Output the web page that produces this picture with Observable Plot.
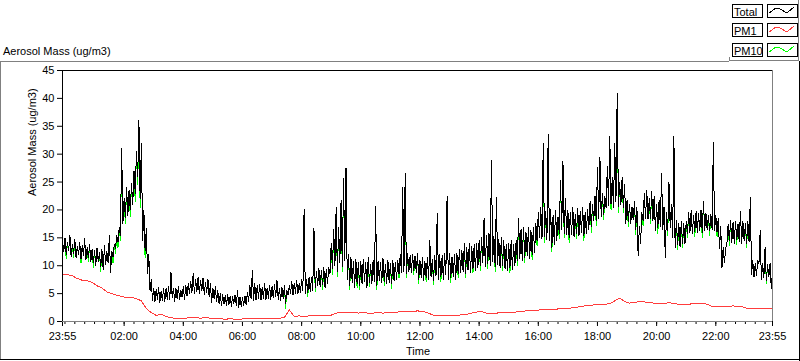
<!DOCTYPE html>
<html><head><meta charset="utf-8">
<script src="https://cdn.jsdelivr.net/npm/d3@7"></script>
<script src="https://cdn.jsdelivr.net/npm/@observablehq/plot@0.6"></script>
<style>
body{margin:0;background:#fff;font-family:"Liberation Sans",Arial,sans-serif;font-size:11px;color:#000;}
#wrap{position:relative;width:800px;height:361px;overflow:hidden;background:#fff;}
#wrap svg.plot{position:absolute;left:0;top:0;}
.abs{position:absolute;}
.lbox{position:absolute;box-sizing:border-box;border:1px solid #000;background:#fff;height:14px;width:31px;line-height:12px;padding:0 0 0 1px;white-space:nowrap;overflow:hidden;}
.sbox{position:absolute;box-sizing:border-box;border:1px solid #000;background:#fff;height:14px;width:31px;}
</style></head><body>
<div id="wrap"></div>
<script>
// ---- data ----
const startClock = "23:55";
const totalStepMin = 2.5; // Total: band low/high every 2.5 min from 23:55
const pm10StepMin = 2.5;  // PM10: same sampling
const pm1StepMin = 10;    // PM1 every 10 min from 23:55

const total = [
  14.5,
  12.5,15.0, 12.0,14.2, 12.8,15.5, 11.6,13.8, 12.2,14.8, 11.5,13.5, 12.0,14.2, 11.2,13.6, 11.8,14.8, 11.0,13.2, 11.5,13.8, 10.8,12.9,
  10.5,12.8, 10.0,13.2, 10.8,12.4, 9.8,12.9, 9.3,13.6, 10.2,12.5, 10.5,15.4, 8.7,12.6, 11.5,13.8, 13.0,15.5, 14.2,16.8, 15.5,31.0,
  17.5,22.0, 18.6,24.0, 19.0,23.5, 20.0,24.7, 21.0,27.0, 23.0,30.5, 26.0,36.0, 22.0,32.0, 14.5,20.0, 12.7,16.7, 8.6,12.0, 5.5,7.5,
  3.8,6.0, 3.5,5.8, 4.0,6.1, 3.4,5.5, 3.8,6.0, 3.6,5.9, 4.0,6.2, 3.9,8.8, 4.2,6.0, 3.6,5.9, 4.1,6.3, 3.9,5.6,
  4.4,6.2, 4.0,6.5, 4.5,6.8, 5.0,7.2, 5.2,8.6, 5.0,7.5, 5.4,7.9, 5.0,7.4, 5.5,7.8, 4.8,7.0, 5.2,7.6, 4.4,6.8,
  3.4,6.0, 4.0,6.2, 3.6,5.5, 3.2,5.0, 2.9,4.8, 3.1,4.6, 2.8,4.9, 3.0,4.5, 2.7,4.4, 3.2,4.8, 2.9,5.6, 2.5,4.4,
  2.6,4.3, 2.8,4.6, 3.0,5.2, 3.6,6.5, 4.0,9.1, 3.8,6.8, 3.9,6.4, 4.2,6.6, 3.8,6.2, 4.1,6.8, 3.9,6.0, 4.2,6.5,
  4.0,6.3, 4.2,6.6, 4.5,7.4, 4.0,6.0, 3.8,6.2, 4.1,6.4, 3.2,5.5, 4.7,6.4, 5.0,7.2, 4.8,6.9, 5.1,7.4, 4.9,6.8,
  5.2,7.5, 5.5,20.1, 5.0,7.6, 5.2,7.9, 5.4,7.8, 5.6,16.7, 6.1,9.0, 6.4,9.5, 6.2,9.2, 6.6,9.7, 6.1,9.4, 6.8,9.7,
  8.6,14.0, 9.5,16.5, 10.0,20.4, 9.0,16.9, 10.5,21.7, 9.8,25.6, 11.0,27.6, 7.5,12.0, 6.5,11.5, 7.0,10.8, 6.1,11.2, 6.8,10.5,
  6.5,10.8, 6.8,11.2, 7.2,10.5, 6.1,11.5, 7.0,10.2, 6.8,11.0, 7.2,20.6, 6.5,10.9, 7.4,10.5, 6.9,11.3, 7.2,10.2, 6.8,10.9,
  7.0,10.4, 6.8,10.9, 7.3,10.6, 7.6,11.0, 8.6,12.0, 8.8,24.0, 9.0,26.5, 8.6,12.2, 9.0,11.8, 8.8,12.0, 9.2,11.8, 8.7,12.2,
  7.5,11.0, 7.8,11.5, 7.4,10.8, 7.9,11.5, 7.6,14.5, 8.0,11.2, 7.4,11.8, 8.2,19.4, 7.6,12.0, 8.0,11.8, 7.5,12.2, 8.4,22.4,
  7.5,12.2, 7.8,11.5, 8.0,12.0, 7.6,12.2, 8.6,13.0, 8.8,12.8, 9.0,14.0, 8.6,13.2, 9.2,14.0, 8.8,13.5, 9.5,13.8, 9.1,14.0,
  9.7,14.5, 10.0,15.0, 10.5,18.6, 9.8,15.5, 10.4,15.8, 10.0,28.9, 10.8,15.2, 9.9,22.2, 10.2,14.8, 9.7,15.0, 10.0,14.5, 9.5,13.8,
  9.1,14.0, 9.6,14.5, 9.3,13.8, 10.0,14.5, 10.9,18.5, 11.2,16.5, 11.0,16.9, 11.5,16.0, 11.8,16.9, 11.2,16.4, 12.0,16.8, 12.4,17.5,
  14.5,19.5, 15.0,20.4, 14.8,31.9, 15.2,19.8, 14.6,33.5, 14.5,20.0, 13.3,19.0, 13.8,19.9, 14.5,18.8, 15.8,25.3, 16.5,28.7, 15.8,22.0,
  15.5,20.0, 15.1,19.5, 15.6,20.4, 15.2,19.2, 15.8,20.2, 15.4,19.8, 16.0,20.4, 15.3,19.5, 15.8,20.0, 16.5,21.5, 17.0,21.0, 18.1,22.5,
  18.1,27.6, 18.5,29.4, 18.8,22.9, 19.2,22.5, 20.4,27.8, 20.8,33.2, 21.0,25.8, 20.4,31.9, 21.5,40.9, 20.6,25.0, 21.0,25.8, 20.4,24.5,
  17.6,21.7, 18.0,21.0, 17.6,20.5, 18.2,21.5, 16.5,20.5, 11.8,17.0, 14.0,19.5, 18.1,22.9, 18.5,23.5, 18.3,22.0, 18.5,23.3, 18.1,22.5,
  16.3,21.0, 16.8,21.7, 17.0,26.5, 16.5,20.5, 11.5,19.5, 16.3,25.0, 16.8,21.0, 15.0,33.2, 13.3,18.1, 13.8,17.5, 13.3,18.0, 14.0,17.5,
  14.0,18.0, 15.8,19.5, 16.0,19.9, 15.8,19.0, 16.2,19.7, 15.9,19.4, 16.3,19.9, 16.0,21.5, 16.3,19.4, 16.5,19.0, 16.3,19.2, 16.5,32.1,
  16.3,19.0, 16.0,18.5, 13.0,17.0, 9.7,13.3, 10.5,13.0, 14.0,17.5, 14.5,18.1, 14.2,17.8, 14.0,18.0, 14.6,17.5, 14.3,19.7, 14.0,18.0,
  14.5,17.5, 14.0,18.0, 14.2,22.2, 8.5,10.9, 7.9,10.5, 8.2,10.9, 10.4,16.3, 7.5,10.4, 7.8,13.3, 7.4,10.2, 8.0,10.4, 5.9,9.0
];

const pm10 = [
  14.5,
  12.5,15.0, 11.2,14.2, 12.8,15.5, 11.6,13.8, 11.4,14.8, 11.5,13.5, 12.0,14.2, 10.5,13.6, 11.8,14.8, 11.0,13.2, 10.7,13.8, 10.8,12.9,
  9.7,12.8, 10.0,13.2, 10.8,12.4, 9.0,12.9, 9.3,13.6, 10.2,12.5, 10.5,15.4, 8.7,12.6, 10.5,13.8, 12.2,15.5, 13.2,16.8, 14.5,31.0,
  17.5,22.0, 17.5,24.0, 19.0,23.5, 18.8,24.7, 21.0,27.0, 21.5,30.5, 24.5,36.0, 20.5,32.0, 14.5,20.0, 11.5,16.7, 8.6,12.0, 5.5,7.5,
  3.8,6.0, 3.5,5.8, 4.0,6.1, 3.4,5.5, 3.8,6.0, 3.6,5.9, 4.0,6.2, 3.9,8.8, 4.2,6.0, 3.6,5.9, 4.1,6.3, 3.9,5.6,
  4.4,6.2, 4.0,6.5, 4.5,6.8, 5.0,7.2, 5.2,8.6, 5.0,7.5, 5.4,7.9, 5.0,7.4, 5.5,7.8, 4.8,7.0, 5.2,7.6, 4.4,6.8,
  3.4,6.0, 4.0,6.2, 3.6,5.5, 3.2,5.0, 2.9,4.8, 3.1,4.6, 2.8,4.9, 3.0,4.5, 2.7,4.4, 3.2,4.8, 2.9,5.6, 2.5,4.4,
  2.6,4.3, 2.8,4.6, 3.0,5.2, 3.6,6.5, 4.0,9.1, 3.8,6.8, 3.9,6.4, 4.2,6.6, 3.8,6.2, 4.1,6.8, 3.9,6.0, 4.2,6.5,
  4.0,6.3, 4.2,6.6, 4.5,7.4, 4.0,6.0, 3.8,6.2, 4.1,6.4, 2.4,5.5, 4.7,6.4, 5.0,7.2, 4.8,6.9, 5.1,7.4, 4.9,6.8,
  5.2,7.5, 5.5,20.1, 5.0,7.6, 4.5,7.9, 5.4,7.8, 5.6,16.7, 5.3,9.0, 6.4,9.5, 6.2,9.2, 5.8,9.7, 6.1,9.4, 6.8,9.7,
  8.6,14.0, 8.5,16.5, 10.0,20.4, 8.0,16.9, 10.5,21.7, 9.0,25.6, 11.0,27.6, 7.5,12.0, 5.8,11.5, 7.0,10.8, 6.1,11.2, 6.0,10.5,
  5.7,10.8, 6.8,11.2, 7.2,10.5, 6.1,11.5, 6.2,10.2, 6.8,11.0, 7.2,20.6, 5.8,10.9, 7.4,10.5, 6.9,11.3, 6.4,10.2, 6.8,10.9,
  7.0,10.4, 6.0,10.9, 7.3,10.6, 7.6,11.0, 7.8,12.0, 8.8,24.0, 9.0,26.5, 7.8,12.2, 9.0,11.8, 8.8,12.0, 8.4,11.8, 8.7,12.2,
  6.8,11.0, 7.8,11.5, 7.4,10.8, 7.1,11.5, 7.6,14.5, 8.0,11.2, 6.6,11.8, 8.2,19.4, 7.6,12.0, 7.2,11.8, 7.5,12.2, 8.4,22.4,
  7.5,12.2, 7.0,11.5, 8.0,12.0, 7.6,12.2, 7.8,13.0, 8.8,12.8, 9.0,14.0, 7.8,13.2, 9.2,14.0, 8.8,13.5, 8.7,13.8, 9.1,14.0,
  9.7,14.5, 9.2,15.0, 10.5,18.6, 9.8,15.5, 9.5,15.8, 10.0,28.9, 10.8,15.2, 9.0,22.2, 10.2,14.8, 9.7,15.0, 9.2,14.5, 9.5,13.8,
  9.1,14.0, 8.8,14.5, 9.3,13.8, 10.0,14.5, 10.0,18.5, 11.2,16.5, 11.0,16.9, 10.6,16.0, 11.8,16.9, 11.2,16.4, 11.0,16.8, 12.4,17.5,
  13.6,19.5, 15.0,20.4, 14.8,31.9, 14.2,19.8, 14.6,33.5, 14.5,20.0, 12.5,19.0, 13.8,19.9, 14.5,18.8, 14.8,25.3, 16.5,28.7, 15.0,22.0,
  15.5,20.0, 14.2,19.5, 15.6,20.4, 15.2,19.2, 14.8,20.2, 15.4,19.8, 16.0,20.4, 14.4,19.5, 15.8,20.0, 16.5,21.5, 16.0,21.0, 18.1,22.5,
  17.2,27.6, 18.5,29.4, 18.8,22.9, 18.2,22.5, 20.4,27.8, 20.8,33.2, 20.0,25.8, 20.4,31.9, 21.5,40.9, 19.6,25.0, 21.0,25.8, 19.6,24.5,
  17.6,21.7, 17.0,21.0, 17.6,20.5, 18.2,21.5, 15.6,20.5, 11.8,17.0, 14.0,19.5, 17.2,22.9, 18.5,23.5, 18.3,22.0, 17.5,23.3, 18.1,22.5,
  16.3,21.0, 15.8,21.7, 17.0,26.5, 16.5,20.5, 11.5,19.5, 15.4,25.0, 16.8,21.0, 15.0,33.2, 13.3,18.1, 12.9,17.5, 13.3,18.0, 13.2,17.5,
  14.0,18.0, 15.0,19.5, 16.0,19.9, 15.8,19.0, 15.3,19.7, 15.9,19.4, 16.3,19.9, 15.1,21.5, 16.3,19.4, 16.5,19.0, 15.4,19.2, 16.5,32.1,
  16.3,19.0, 15.2,18.5, 13.0,17.0, 9.7,13.3, 10.5,13.0, 14.0,17.5, 13.6,18.1, 14.2,17.8, 14.0,18.0, 13.8,17.5, 14.3,19.7, 14.0,18.0,
  14.5,17.5, 13.2,18.0, 14.2,22.2, 8.5,10.9, 7.9,10.5, 8.2,10.9, 10.4,16.3, 7.5,10.4, 7.8,13.3, 6.8,10.2, 8.0,10.4, 5.9,9.0
];

const pm1 = [
  8.5,
  8.4, 8.2, 7.7, 7.4, 7.3, 7.0,
  6.4, 6.0, 5.3, 5.0, 4.7, 4.5,
  4.3, 4.3, 4.1, 3.7, 2.3, 1.6,
  1.1, 1.3, 0.9, 0.7, 0.5, 0.6,
  0.6, 0.7, 0.7, 0.6, 0.7, 0.6,
  0.5, 0.5, 0.4, 0.5, 0.4, 0.4,
  0.5, 0.6, 0.6, 0.6, 0.6, 0.6,
  0.6, 0.6, 0.7, 2.1, 0.9, 1.0,
  0.9, 1.0, 1.0, 1.0, 1.1, 1.0,
  1.3, 1.6, 1.7, 1.6, 1.7, 1.5,
  1.6, 1.5, 1.5, 1.6, 1.5, 1.6,
  1.6, 1.7, 1.8, 1.8, 1.8, 1.9,
  1.8, 1.6, 1.2, 1.0, 1.0, 1.0,
  1.0, 1.1, 1.2, 1.3, 1.5, 1.7,
  1.8, 1.5, 1.5, 1.5, 1.6, 1.6,
  1.7, 1.7, 1.8, 1.9, 1.9, 2.0,
  2.1, 2.1, 2.2, 2.2, 2.3, 2.4,
  2.4, 2.5, 2.7, 2.8, 2.9, 3.0,
  3.0, 3.1, 3.2, 3.7, 4.2, 3.6,
  3.3, 3.4, 3.6, 3.5, 3.4, 3.3,
  3.3, 3.2, 3.4, 3.2, 3.1, 3.0,
  3.1, 3.2, 3.3, 3.3, 3.0, 2.6,
  2.6, 2.7, 2.7, 2.8, 2.7, 2.6,
  2.3, 2.4, 2.4, 2.3, 2.4, 2.4
];

const yTicks = [0, 5, 10, 15, 20, 25, 30, 35, 40, 45];
const xTickLabels = ["23:55", "02:00", "04:00", "06:00", "08:00", "10:00", "12:00", "14:00", "16:00", "18:00", "20:00", "22:00", "23:55"];
const minorTickStepMin = 20;
const seriesNames = ["Total", "PM1", "PM10"];
const seriesColors = ["#000000", "#ff3c3c", "#00ff00"];
const titleText = "Aerosol Mass (ug/m3)";
const yLabelText = "Aerosol Mass (ug/m3)";
const xLabelText = "Time";

// ---- build ----
const [sh, sm] = startClock.split(":").map(Number);
const base = Date.UTC(2000, 0, 1, sh, sm);
const startDate = new Date(base);
const endDate = new Date(base + 24 * 60 * 60000);
const rowsOf = (arr, step) => arr.map((v, i) => ({t: new Date(base + i * step * 60000), v}));
const totalRows = rowsOf(total, totalStepMin);
const pm10Rows = rowsOf(pm10, pm10StepMin);
const pm1Rows = rowsOf(pm1, pm1StepMin);

const majorTicks = xTickLabels.map((s, i) => {
  const [h, m] = s.split(":").map(Number);
  return new Date(Date.UTC(2000, 0, i === 0 ? 1 : 2, h, m));
});
const labelMap = new Map(majorTicks.map((d, i) => [+d, xTickLabels[i]]));
const minorTicks = d3.utcMinute.every(minorTickStepMin).range(startDate, endDate);

const font = '"Liberation Sans", Arial, sans-serif';
const chart = Plot.plot({
  width: 800, height: 361,
  marginLeft: 62, marginRight: 28, marginTop: 70, marginBottom: 40,
  style: {fontFamily: font, fontSize: "11px", color: "#000", background: "transparent"},
  x: {type: "utc", domain: [startDate, endDate]},
  y: {domain: [0, 45]},
  marks: [
    Plot.axisY({ticks: yTicks, tickSize: 5, tickPadding: 3, label: null, tickFormat: d => String(d)}),
    Plot.axisX({ticks: minorTicks, tickSize: 3, tickFormat: () => "", label: null}),
    Plot.axisX({ticks: majorTicks, tickSize: 5, tickPadding: 6, label: null, tickFormat: d => labelMap.get(+d) ?? ""}),
    Plot.line(pm10Rows, {x: "t", y: "v", stroke: seriesColors[2], strokeWidth: 1, shapeRendering: "crispEdges"}),
    Plot.line(totalRows, {x: "t", y: "v", stroke: seriesColors[0], strokeWidth: 1, shapeRendering: "crispEdges"}),
    Plot.line(pm1Rows, {x: "t", y: "v", stroke: seriesColors[1], strokeWidth: 1, shapeRendering: "crispEdges"}),
    Plot.ruleY([45], {stroke: "#000"}),
    Plot.ruleX([startDate], {stroke: "#000"}),
    Plot.ruleY([0], {stroke: "#808080"}),
    Plot.ruleX([endDate], {stroke: "#808080"}),
    Plot.text([yLabelText], {frameAnchor: "left", rotate: -90, dx: -30, fontSize: 11, fill: "#000"})
  ]
});
chart.classList.add("plot");
const wrap = document.getElementById("wrap");
wrap.appendChild(chart);

function div(style, text) {
  const d = document.createElement("div");
  d.className = "abs";
  Object.assign(d.style, style);
  if (text != null) d.textContent = text;
  wrap.appendChild(d);
  return d;
}
// panel borders
div({left: "0px", top: "61px", width: "729px", height: "0px", borderTop: "1px solid #808080"});
div({left: "0px", top: "61px", width: "0px", height: "299px", borderLeft: "1px solid #808080"});
div({left: "0px", top: "359px", width: "800px", height: "0px", borderTop: "1px solid #000"});
div({left: "799px", top: "61px", width: "0px", height: "300px", borderLeft: "1px solid #000"});
div({left: "729px", top: "57px", width: "0px", height: "4px", borderLeft: "1px solid #808080"});
div({left: "729px", top: "60px", width: "70px", height: "0px", borderTop: "1px solid #808080"});
div({left: "798px", top: "0px", width: "0px", height: "61px", borderLeft: "1px solid #808080"});
// title and x label
div({left: "3px", top: "45px", lineHeight: "13px", whiteSpace: "nowrap"}, titleText);
div({left: "406px", top: "345px", lineHeight: "13px", whiteSpace: "nowrap"}, xLabelText);
// legend
seriesNames.forEach((name, i) => {
  const top = Math.round(4 + i * 19.4);
  const lb = document.createElement("div");
  lb.className = "lbox"; lb.style.left = "732px"; lb.style.top = top + "px"; lb.style.paddingTop = "1px";
  lb.textContent = name; wrap.appendChild(lb);
  const sb = document.createElement("div");
  sb.className = "sbox"; sb.style.left = "767px"; sb.style.top = top + "px";
  sb.innerHTML = `<svg width="29" height="12" style="display:block"><polyline points="1,8 8,3 12,4 19,8 26,2" fill="none" stroke="${seriesColors[i]}" stroke-width="1" shape-rendering="crispEdges"/></svg>`;
  wrap.appendChild(sb);
});
// sanity check on series lengths (shows only if a series does not end at 23:55)
const bad = [[total, totalStepMin, "total"], [pm10, pm10StepMin, "pm10"], [pm1, pm1StepMin, "pm1"]]
  .filter(([a, s]) => (a.length - 1) * s !== 1440).map(([a, s, n]) => n + ":" + a.length);
if (bad.length) div({left: "200px", top: "20px", color: "#f0f"}, "LEN " + bad.join(" "));
</script>
</body></html>
